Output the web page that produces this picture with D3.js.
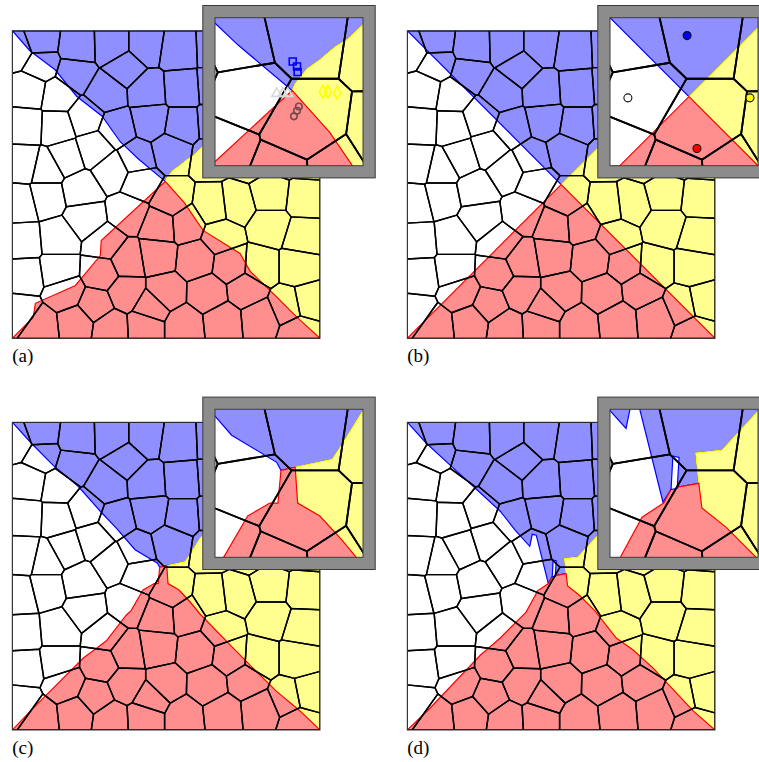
<!DOCTYPE html>
<html>
<head>
    <meta charset="utf-8">
    <title>Region Mesh</title>
    <script type="text/javascript" src="https://cdnjs.cloudflare.com/ajax/libs/d3/7.8.5/d3.min.js"></script>
    <style>
        body { margin: 0; background: #fff; }
    </style>
</head>
<body>
<script type="text/javascript">

    // mesh cell seeds, data coords 0..100 (y goes down)
    var seeds = [
        [1.9,6.2],[9.1,3.6],[21.1,5.2],[32.5,4.9],[43.2,4.9],[53.9,6.5],
        [9.4,10.7],[20.1,14.0],[36.7,12.0],[30.5,20.1],[44.2,19.5],[54.9,18.8],
        [5.5,19.5],[14.9,21.1],[4.5,30.8],[14.6,31.2],[23.7,28.2],[33.8,31.8],
        [45.1,29.2],[54.9,30.8],[26.6,38.3],[40.3,41.6],[51.6,39.0],[17.5,41.2],
        [3.9,43.2],[11.0,44.8],[2.9,56.2],[11.0,54.2],[22.4,51.9],[23.7,61.0],
        [14.9,67.5],[3.6,68.5],[4.2,79.5],[14.9,77.9],[17.2,85.1],[2.9,91.9],
        [8.8,96.1],[20.8,94.8],[26.9,89.3],[28.9,78.6],[37.3,74.7],[30.2,69.2],
        [31.8,96.4],[43.2,95.8],[45.1,89.9],[37.0,85.1],[49.7,85.1],[48.1,63.3],
        [47.1,73.1],[59.7,74.4],[51.6,55.2],[37.7,59.1],[56.5,62.7],[65.3,57.1],
        [72.7,56.2],[83.8,53.2],[95.1,54.5],[83.8,63.6],[94.5,66.9],[67.9,66.9],
        [71.1,76.0],[80.5,76.6],[92.9,76.6],[96.1,88.3],[76.0,84.1],[89.6,89.6],
        [63.6,85.4],[68.5,94.5],[80.5,93.5],[93.5,97.7],[55.8,95.8],[32.5,45.5],
        [41.6,49.4],
        [66,6],[78,6],[89,6],[97,7],[66,18],[77,18],[88,19],[96,18],
        [66,30],[78,29],[89,30],[96,30],[65,41],[77,42],[88,41],[96,42]
    ];

    // (a) region boundaries, from the meeting point outwards
    var blueWhiteA = [[0,0],[5.7,6.5],[13.9,12.7],[20.9,21.3],[29.2,27.8],[35,36],[40.9,41.6],[48.5,48],[49.7,49]];
    var blueYellowA = [[49.7,49],[50.2,47.9],[52.1,45.5],[54.2,44],[56.7,41.9],[58.8,40.6],[61,38.5],[100,0]];
    var redWhiteA = [[49.7,49],[28.9,68.2],[28.6,73.1],[20.5,82.8],[7.5,88.6],[6.8,93.2],[0,100]];
    var redYellowA = [[49.7,49],[55.8,55.8],[62,64.9],[74,72.4],[77.3,78.2],[85.4,86],[92.9,93.5],[100,100]];

    // (b) straight diagonals
    var blueWhiteB = [[0,0],[50,50]];
    var blueYellowB = [[50,50],[100,0]];
    var redWhiteB = [[50,50],[0,100]];
    var redYellowB = [[50,50],[100,100]];

    // (c) polygons
    var blueC = [[0,0],[100,0],[61,37.7],[57.8,42.9],[56.2,45.3],[50.2,46.6],[47.9,47.1],[47.2,45.8],[39.9,41.4],[33.8,34.4],[28.6,28.9],[21.4,20.8],[13.3,14],[6.2,6.8]];
    var yellowC = [[100,0],[100,100],[93.5,93.8],[85.7,87.3],[78.2,79.9],[71.8,73.4],[61,62.3],[57.8,58.4],[54.2,54.5],[50.6,52.4],[50.2,46.6],[56.2,45.3],[57.8,42.9],[61,37.7]];
    var redC = [[50.2,46.6],[50.6,52.4],[54.2,54.5],[57.8,58.4],[61,62.3],[71.8,73.4],[78.2,79.9],[85.7,87.3],[93.5,93.8],[100,100],[0,100],[6.8,92.9],[23.1,76.6],[30.5,71.1],[37,62.7],[38.6,61.2],[42.5,54.5],[46.1,52.4],[47.4,52.4],[47.9,47.1]];

    // (d) polygons
    var blueD = [[0,0],[100,0],[61,37.7],[55.4,43.8],[51.1,44.3],[51.6,49.2],[47.2,50],[45.8,52.3],[41.9,36.7],[40.6,36.4],[39.8,40.3],[35.1,35.1],[30.2,28.9],[21.4,20.8],[14,14],[6.2,6.8]];
    var yellowD = [[100,0],[100,100],[92.9,93.8],[79.9,79.9],[73.4,74],[67.9,70.1],[60.9,61.2],[56,56.3],[52.1,53.2],[51.6,49.2],[51.1,44.3],[55.4,43.8],[61,37.7]];
    var redD = [[51.6,49.2],[52.1,53.2],[56,56.3],[60.9,61.2],[67.9,70.1],[73.4,74],[79.9,79.9],[92.9,93.8],[100,100],[0,100],[6.8,93.5],[23.7,75.7],[30.2,70.1],[38.6,61.7],[42.4,54.7],[45.9,52.4],[47.2,50]];
    var whiteSliverD = [[47.4,44.8],[48.4,45],[48.1,50],[47.1,50.2]];

    // inset markers (a)
    var squaresA = [[49.8,44.3],[50.5,45.1],[50.6,46.0]];
    var trianglesA = [[47.2,49.5],[48.2,49.5],[49.0,49.5]];
    var diamondsA = [[54.7,49.2],[55.5,49.2],[57.0,49.4]];
    var circlesA = [[50.8,51.6],[50.5,52.3],[50.0,53.2]];

    // inset markers (b): one per class
    var classNames = ["blue", "white", "yellow", "red"];
    var classPointsB = [[49.7,40.1],[40.1,50.2],[59.9,50.2],[51.3,58.4]];

    var insetDomain = [37.2, 61.2];
    var labels = ["(a)", "(b)", "(c)", "(d)"];

    var fills = {blue: "#8f8fff", yellow: "#ffff8f", red: "#ff8f8f", white: "#ffffff"},
        strokes = {blue: "#0000ff", yellow: "#ffff00", red: "#ff0000", white: "#0000ff"};

    function wedges(bw, by, rw, ry)
    {
        var blue = bw.concat(by.slice(1));
        var yellow = by.concat([[100,100]], ry.slice().reverse().slice(0, -1));
        var red = rw.concat([[100,100]], ry.slice().reverse().slice(0, -1));
        return [{c: "blue", pts: blue}, {c: "yellow", pts: yellow}, {c: "red", pts: red}];
    }

    var panels = [
        {regions: wedges(blueWhiteA, blueYellowA, redWhiteA, redYellowA), marks: "a"},
        {regions: wedges(blueWhiteB, blueYellowB, redWhiteB, redYellowB), marks: "b"},
        {regions: [{c: "blue", pts: blueC}, {c: "yellow", pts: yellowC}, {c: "red", pts: redC}], marks: null},
        {regions: [{c: "blue", pts: blueD}, {c: "yellow", pts: yellowD}, {c: "red", pts: redD}, {c: "white", pts: whiteSliverD}], marks: null}
    ];

    var width = 759, height = 762,
        side = 307.7, insetSide = 148, frame = 12.7,
        origins = [[12.3, 30.7], [407.3, 30.7], [12.3, 422.3], [407.3, 422.3]];

    var delaunay = d3.Delaunay.from(seeds);
    var voronoi = delaunay.voronoi([0, 0, 100, 100]);
    var cells = seeds.map(function (d, i) { return voronoi.cellPolygon(i); });

    var svg = d3.select("body").append("svg")
            .attr("width", width)
            .attr("height", height);

    var defs = svg.append("defs");

    //draw regions + mesh into g with given scales
    function drawMap(g, x, y, regions, lineW)
    {
        var line = d3.line()
                .x(function (d) { return x(d[0]); })
                .y(function (d) { return y(d[1]); })
                .curve(d3.curveLinearClosed);

        g.selectAll("path.region")
                .data(regions)
                .enter().append("path")
                .attr("class", "region")
                .attr("d", function (d) { return line(d.pts); })
                .attr("fill", function (d) { return fills[d.c]; })
                .attr("stroke", function (d) { return strokes[d.c]; })
                .attr("stroke-width", 1.2);

        g.selectAll("path.cell")
                .data(cells)
                .enter().append("path")
                .attr("class", "cell")
                .attr("d", function (d) { return line(d.slice(0, -1)); })
                .attr("fill", "none")
                .attr("stroke", "#000")
                .attr("stroke-width", lineW)
                .attr("stroke-linejoin", "round");
    }

    function drawMarks(g, x, y, kind)
    {
        if (kind === "a")
        {
            var sets = [
                {pts: squaresA, type: d3.symbolSquare, size: 48, stroke: "#0000ee"},
                {pts: trianglesA, type: d3.symbolTriangle, size: 42, stroke: "#d8d8d8"},
                {pts: diamondsA, type: d3.symbolDiamond, size: 46, stroke: "#ffff00"},
                {pts: circlesA, type: d3.symbolCircle, size: 34, stroke: "#7a4a4a"}
            ];
            sets.forEach(function (s)
            {
                g.selectAll(null)
                        .data(s.pts)
                        .enter().append("path")
                        .attr("d", d3.symbol().type(s.type).size(s.size))
                        .attr("transform", function (d) { return "translate(" + x(d[0]) + "," + y(d[1]) + ")"; })
                        .attr("fill", "none")
                        .attr("stroke", s.stroke)
                        .attr("stroke-width", 1.6);
            });
        }
        else if (kind === "b")
        {
            g.selectAll(null)
                    .data(classPointsB)
                    .enter().append("circle")
                    .attr("cx", function (d) { return x(d[0]); })
                    .attr("cy", function (d) { return y(d[1]); })
                    .attr("r", 4)
                    .attr("fill", function (d, i) { return classNames[i] === "white" ? "#fff" : strokes[classNames[i]]; })
                    .attr("stroke", "#111")
                    .attr("stroke-width", 1.1);
        }
    }

    panels.forEach(function (p, k)
    {
        var ox = origins[k][0], oy = origins[k][1];

        var x = d3.scaleLinear().domain([0, 100]).range([ox, ox + side]);
        var y = d3.scaleLinear().domain([0, 100]).range([oy, oy + side]);

        defs.append("clipPath").attr("id", "main-clip-" + k)
                .append("rect")
                .attr("x", ox).attr("y", oy).attr("width", side).attr("height", side);

        var mainG = svg.append("g").attr("clip-path", "url(#main-clip-" + k + ")");
        drawMap(mainG, x, y, p.regions, 1.45);

        svg.append("rect")
                .attr("x", ox).attr("y", oy).attr("width", side).attr("height", side)
                .attr("fill", "none").attr("stroke", "#333").attr("stroke-width", 1);

        // inset: zoom of the meeting point
        var ix = ox + 202.7, iy = oy - 13;
        var xi = d3.scaleLinear().domain(insetDomain).range([ix, ix + insetSide]);
        var yi = d3.scaleLinear().domain(insetDomain).range([iy, iy + insetSide]);

        svg.append("rect")
                .attr("x", ix - frame + 0.5).attr("y", iy - frame + 0.5)
                .attr("width", insetSide + 2 * frame - 1).attr("height", insetSide + 2 * frame - 1)
                .attr("fill", "#8c8c8c").attr("stroke", "#3a3a3a").attr("stroke-width", 1);

        defs.append("clipPath").attr("id", "inset-clip-" + k)
                .append("rect")
                .attr("x", ix).attr("y", iy).attr("width", insetSide).attr("height", insetSide);

        var insetG = svg.append("g").attr("clip-path", "url(#inset-clip-" + k + ")");
        insetG.append("rect")
                .attr("x", ix).attr("y", iy).attr("width", insetSide).attr("height", insetSide)
                .attr("fill", "#fff");
        drawMap(insetG, xi, yi, p.regions, 1.8);
        drawMarks(insetG, xi, yi, p.marks);

        svg.append("rect")
                .attr("x", ix).attr("y", iy).attr("width", insetSide).attr("height", insetSide)
                .attr("fill", "none").attr("stroke", "#3a3a3a").attr("stroke-width", 1);

        svg.append("text")
                .attr("x", ox)
                .attr("y", oy + side + 24)
                .attr("font-family", "'Liberation Serif', 'DejaVu Serif', serif")
                .attr("font-size", 19)
                .attr("fill", "#000")
                .text(labels[k]);
    });

</script>
</body>
</html>
